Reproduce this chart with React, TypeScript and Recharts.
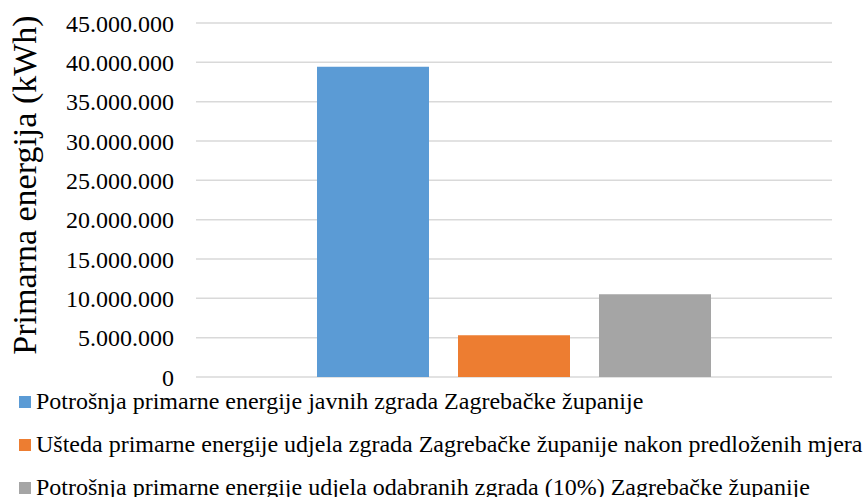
import React from 'react';
import { BarChart, Bar, XAxis, YAxis, CartesianGrid, Legend } from 'recharts';

const categories = [''];
const seriesNames = [
  'Potrošnja primarne energije javnih zgrada Zagrebačke županije',
  'Ušteda primarne energije udjela zgrada Zagrebačke županije nakon predloženih mjera',
  'Potrošnja primarne energije udjela odabranih zgrada (10%) Zagrebačke županije',
];
const seriesValues = [39440000, 5300000, 10530000];
const yTicks = [0, 5000000, 10000000, 15000000, 20000000, 25000000, 30000000, 35000000, 40000000, 45000000];
const yLabel = 'Primarna energija (kWh)';

const colors = ['#5B9BD5', '#ED7D31', '#A5A5A5'];
const keys = ['s0', 's1', 's2'];

const data = categories.map((c) => {
  const row: Record<string, any> = { name: c };
  keys.forEach((k, i) => {
    row[k] = seriesValues[i];
  });
  return row;
});

const FONT = 'Liberation Serif';

const fmt = (v: number) => String(v).replace(/\B(?=(\d{3})+(?!\d))/g, '.');

const LegendContent = () => {
  return (
    <div style={{ fontFamily: FONT }}>
      {seriesNames.map((name, i) => (
        <div
          key={i}
          style={{
            height: 43,
            display: 'flex',
            alignItems: 'center',
            paddingLeft: 19,
            whiteSpace: 'nowrap',
          }}
        >
          <span style={{ width: 12, height: 12, background: colors[i], display: 'inline-block', marginRight: 5, flexShrink: 0 }} />
          <span style={{ fontFamily: FONT, fontSize: 24, color: '#000', lineHeight: '43px' }}>{name}</span>
        </div>
      ))}
    </div>
  );
};

const YLabel = (props: any) => {
  const vb = props.viewBox || {};
  const cx = 36;
  const cy = (vb.y ?? 23) + (vb.height ?? 354) / 2 - 15;
  return (
    <text
      x={cx}
      y={cy}
      transform={`rotate(-90 ${cx} ${cy})`}
      textAnchor="middle"
      fontFamily={FONT}
      fontSize={34}
      fill="#000"
    >
      {yLabel}
    </text>
  );
};

export default function App() {
  return (
    <div style={{ position: 'absolute', left: 0, top: 0, width: 865, height: 497, background: '#fff', fontFamily: FONT }}>
      <BarChart
        width={865}
        height={497}
        data={data}
        margin={{ top: 23, right: 33, bottom: 120, left: 0 }}
        barSize={112}
        barGap={29}
      >
        <CartesianGrid vertical={false} stroke="#d9d9d9" strokeWidth={1.5} />
        <XAxis dataKey="name" height={0} tick={false} tickLine={false} axisLine={{ stroke: '#d9d9d9', strokeWidth: 1.5 }} />
        <YAxis
          width={196}
          domain={[0, 45000000]}
          ticks={yTicks}
          interval={0}
          tickFormatter={fmt}
          axisLine={false}
          tickLine={false}
          tickSize={0}
          tickMargin={22}
          tick={{ fontFamily: FONT, fontSize: 24, fill: '#000' }}
          label={<YLabel />}
        />
        <Legend
          layout="horizontal"
          verticalAlign="middle"
          align="center"
          content={<LegendContent />}
          wrapperStyle={{ top: 380, left: 0, width: 865, height: 129 }}
        />
        {keys.map((k, i) => (
          <Bar key={k} dataKey={k} name={seriesNames[i]} fill={colors[i]} isAnimationActive={false} />
        ))}
      </BarChart>
    </div>
  );
}
